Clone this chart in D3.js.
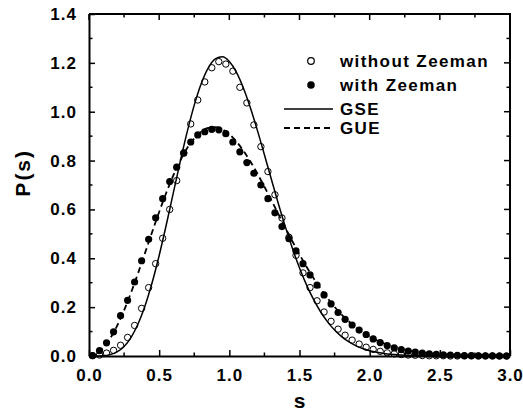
<!DOCTYPE html>
<html>
<head>
<meta charset="utf-8">
<script src="https://cdn.jsdelivr.net/npm/d3@7"></script>
<style>
  body { margin: 0; background: #fff; }
  text { font-family: "Liberation Sans", Arial, sans-serif; font-weight: bold; fill: #000; }
</style>
</head>
<body>
<div id="chart"></div>
<script>
const width = 523;
const height = 415;
const margins = {top: 14, right: 13, bottom: 59, left: 89};

// theory curves, sampled every 0.05 in s from 0 to 3
const curveStep = 0.05;
const gseCurve = [0, 0.0001, 0.0011, 0.0056, 0.0170, 0.0393, 0.0766, 0.1319, 0.2067, 0.3007,
  0.4116, 0.5351, 0.6654, 0.7955, 0.9183, 1.0270, 1.1158, 1.1799, 1.2166, 1.2251,
  1.2057, 1.1622, 1.0974, 1.0164, 0.9237, 0.8239, 0.7224, 0.6225, 0.5275, 0.4397,
  0.3606, 0.2912, 0.2315, 0.1812, 0.1398, 0.1063, 0.0795, 0.0587, 0.0427, 0.0307,
  0.0217, 0.0151, 0.0104, 0.0071, 0.0047, 0.0031, 0.0020, 0.0013, 0.0008, 0.0005,
  0.0003, 0.0002, 0.0001, 0.0001, 0, 0, 0, 0, 0, 0, 0];
const gueCurve = [0, 0.0081, 0.0320, 0.0709, 0.1233, 0.1871, 0.2602, 0.3398, 0.4232, 0.5073,
  0.5896, 0.6673, 0.7380, 0.8000, 0.8513, 0.8911, 0.9186, 0.9337, 0.9364, 0.9274,
  0.9076, 0.8782, 0.8405, 0.7961, 0.7465, 0.6929, 0.6371, 0.5805, 0.5240, 0.4688,
  0.4157, 0.3656, 0.3188, 0.2757, 0.2364, 0.2012, 0.1698, 0.1422, 0.1181, 0.0973,
  0.0797, 0.0647, 0.0521, 0.0417, 0.0331, 0.0261, 0.0204, 0.0158, 0.0122, 0.0093,
  0.0071, 0.0053, 0.0040, 0.0030, 0.0022, 0.0016, 0.0012, 0.0008, 0.0006, 0.0004, 0.0003];

// histogram points, bin centres 0.025, 0.075, ... 2.975
const binStart = 0.025;
const binWidth = 0.05;
const withoutZeeman = [0.001, 0.004, 0.012, 0.023, 0.044, 0.076, 0.125, 0.195, 0.280, 0.378,
  0.482, 0.600, 0.718, 0.832, 0.950, 1.048, 1.122, 1.180, 1.205, 1.195,
  1.166, 1.100, 1.036, 0.946, 0.857, 0.755, 0.660, 0.565, 0.486, 0.412,
  0.340, 0.280, 0.226, 0.180, 0.142, 0.110, 0.085, 0.065, 0.049, 0.036,
  0.027, 0.019, 0.013, 0.009, 0.006, 0.004, 0.003, 0.002, 0.001, 0.001,
  0.001, 0, 0, 0, 0, 0, 0, 0, 0, 0];
const withZeeman = [0.002, 0.022, 0.054, 0.099, 0.165, 0.228, 0.303, 0.390, 0.478, 0.566,
  0.644, 0.714, 0.773, 0.830, 0.876, 0.905, 0.918, 0.928, 0.926, 0.910,
  0.876, 0.836, 0.792, 0.748, 0.700, 0.644, 0.586, 0.530, 0.480, 0.430,
  0.378, 0.332, 0.290, 0.250, 0.213, 0.178, 0.150, 0.127, 0.106, 0.088,
  0.070, 0.055, 0.043, 0.033, 0.026, 0.020, 0.016, 0.012, 0.009, 0.007,
  0.005, 0.004, 0.003, 0.002, 0.002, 0.001, 0.001, 0.001, 0.000, 0.000];

const xTicks = [0, 0.5, 1.0, 1.5, 2.0, 2.5, 3.0];
const yTicks = [0, 0.2, 0.4, 0.6, 0.8, 1.0, 1.2, 1.4];
const legendLabels = ["without Zeeman", "with Zeeman", "GSE", "GUE"];

const svg = d3.select("#chart").append("svg")
  .attr("width", width)
  .attr("height", height);

const xScale = d3.scaleLinear()
  .domain([0, 3])
  .range([margins.left, width - margins.right]);

const yScale = d3.scaleLinear()
  .domain([0, 1.4])
  .range([height - margins.bottom, margins.top]);

const plotBottom = height - margins.bottom;
const plotRight = width - margins.right;

// lines
const line = d3.line()
  .x((d, i) => xScale(i * curveStep))
  .y(d => yScale(d))
  .curve(d3.curveMonotoneX);

svg.append("path")
  .datum(gseCurve)
  .attr("d", line)
  .attr("fill", "none")
  .attr("stroke", "#000")
  .attr("stroke-width", 1.5);

svg.append("path")
  .datum(gueCurve)
  .attr("d", line)
  .attr("fill", "none")
  .attr("stroke", "#000")
  .attr("stroke-width", 1.8)
  .attr("stroke-dasharray", "6,4");

// points
svg.append("g")
  .selectAll("circle")
  .data(withoutZeeman)
  .join("circle")
    .attr("cx", (d, i) => xScale(binStart + i * binWidth))
    .attr("cy", d => yScale(d))
    .attr("r", 3.2)
    .attr("fill", "none")
    .attr("stroke", "#000")
    .attr("stroke-width", 1);

svg.append("g")
  .selectAll("circle")
  .data(withZeeman)
  .join("circle")
    .attr("cx", (d, i) => xScale(binStart + i * binWidth))
    .attr("cy", d => yScale(d))
    .attr("r", 3.6)
    .attr("fill", "#000");

// axes, ticks inside on all four sides
const xMinor = d3.range(0, 3.001, 0.25);
const yMinor = d3.range(0, 1.401, 0.1);

function bottomAxis(g) {
  g.attr("transform", "translate(0," + plotBottom + ")")
    .call(d3.axisBottom(xScale).tickValues(xTicks).tickFormat(d3.format(".1f"))
      .tickSizeInner(-6).tickSizeOuter(0).tickPadding(13));
}
function leftAxis(g) {
  g.attr("transform", "translate(" + margins.left + ",0)")
    .call(d3.axisLeft(yScale).tickValues(yTicks).tickFormat(d3.format(".1f"))
      .tickSizeInner(-6).tickSizeOuter(0).tickPadding(12));
}

const gx = svg.append("g").call(bottomAxis);
const gy = svg.append("g").call(leftAxis);
[gx, gy].forEach(g => {
  g.select(".domain").attr("stroke-width", 2);
  g.selectAll(".tick line").attr("stroke-width", 1.5);
  g.selectAll("text")
    .attr("font-size", "17px")
    .attr("font-family", "'Liberation Sans', Arial, sans-serif")
    .attr("font-weight", "bold")
    .attr("letter-spacing", "1px");
});

// minor ticks bottom / left
svg.append("g").selectAll("line")
  .data(xMinor.filter(v => Math.abs(v * 2 - Math.round(v * 2)) > 0.01))
  .join("line")
    .attr("x1", d => xScale(d)).attr("x2", d => xScale(d))
    .attr("y1", plotBottom).attr("y2", plotBottom - 3.5)
    .attr("stroke", "#000").attr("stroke-width", 1.5);
svg.append("g").selectAll("line")
  .data(yMinor.filter(v => Math.abs(v * 5 - Math.round(v * 5)) > 0.01))
  .join("line")
    .attr("y1", d => yScale(d)).attr("y2", d => yScale(d))
    .attr("x1", margins.left).attr("x2", margins.left + 3.5)
    .attr("stroke", "#000").attr("stroke-width", 1.5);

// top and right ticks
svg.append("g").selectAll("line")
  .data(xMinor)
  .join("line")
    .attr("x1", d => xScale(d)).attr("x2", d => xScale(d))
    .attr("y1", margins.top).attr("y2", (d, i) => margins.top + (i % 2 ? 3.5 : 6))
    .attr("stroke", "#000").attr("stroke-width", 1.5);
svg.append("g").selectAll("line")
  .data(yMinor)
  .join("line")
    .attr("y1", d => yScale(d)).attr("y2", d => yScale(d))
    .attr("x1", plotRight).attr("x2", (d, i) => plotRight - (i % 2 ? 3.5 : 6))
    .attr("stroke", "#000").attr("stroke-width", 1.5);

svg.append("path")
  .attr("d", "M" + margins.left + "," + margins.top + "H" + plotRight + "V" + plotBottom)
  .attr("fill", "none")
  .attr("stroke", "#000")
  .attr("stroke-width", 2);

// axis titles
svg.append("text")
  .attr("x", xScale(1.5))
  .attr("y", 408)
  .attr("text-anchor", "middle")
  .attr("font-size", "21px")
  .text("s");

svg.append("text")
  .attr("transform", "translate(30," + yScale(0.75) + ") rotate(-90)")
  .attr("text-anchor", "middle")
  .attr("font-size", "21px")
  .attr("letter-spacing", "2px")
  .text("P(s)");

// legend
const legendX = 284;
const legendY = [61, 85, 109, 128];
const legend = svg.append("g");

legend.append("circle")
  .attr("cx", legendX + 27).attr("cy", legendY[0]).attr("r", 3.3)
  .attr("fill", "none").attr("stroke", "#000").attr("stroke-width", 1.2);
legend.append("circle")
  .attr("cx", legendX + 27).attr("cy", legendY[1]).attr("r", 3.8)
  .attr("fill", "#000");
legend.append("line")
  .attr("x1", legendX).attr("x2", legendX + 49)
  .attr("y1", legendY[2]).attr("y2", legendY[2])
  .attr("stroke", "#000").attr("stroke-width", 1.5);
legend.append("line")
  .attr("x1", legendX).attr("x2", legendX + 49)
  .attr("y1", legendY[3]).attr("y2", legendY[3])
  .attr("stroke", "#000").attr("stroke-width", 1.8)
  .attr("stroke-dasharray", "6,4");

legend.selectAll("text")
  .data(legendLabels)
  .join("text")
    .attr("x", legendX + 56)
    .attr("y", (d, i) => legendY[i] + 6)
    .attr("font-size", "17px")
    .attr("letter-spacing", "1.4px")
    .text(d => d);
</script>
</body>
</html>
